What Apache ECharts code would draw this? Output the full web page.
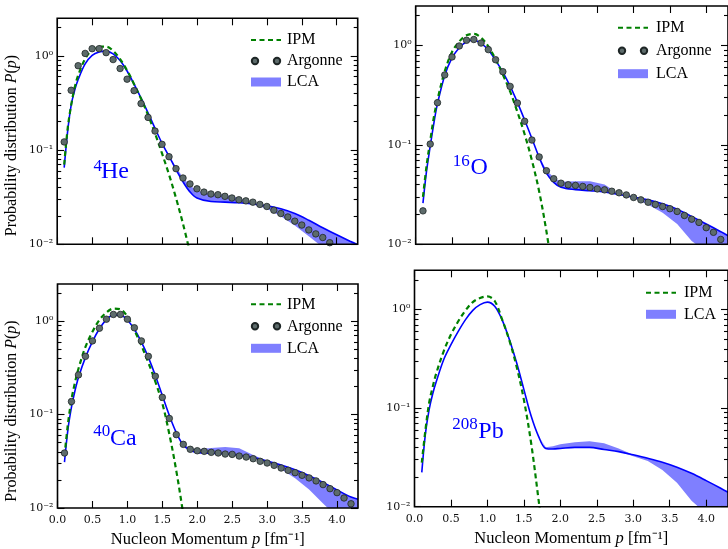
<!DOCTYPE html>
<html>
<head>
<meta charset="utf-8">
<script src="https://cdn.jsdelivr.net/npm/echarts@6/dist/echarts.min.js"></script>
<style>
html, body { margin: 0; padding: 0; background: #fff; }
#chart { width: 728px; height: 549px; }
</style>
</head>
<body>
<div id="chart"></div>
<script>
// momentum grids, fm^-1
var pLine = [0.1, 0.15, 0.2, 0.25, 0.3, 0.4, 0.5, 0.6, 0.7, 0.8, 0.9, 1.0, 1.1, 1.2, 1.3, 1.4, 1.5, 1.6, 1.7, 1.8, 1.9, 2.0, 2.2, 2.4, 2.6, 2.8, 3.0, 3.2, 3.4, 3.6, 3.8, 4.0, 4.2, 4.3];
var pIpm = [0.1, 0.15, 0.2, 0.25, 0.3, 0.4, 0.5, 0.6, 0.7, 0.8, 0.9, 1.0, 1.1, 1.2, 1.3, 1.4, 1.5, 1.6, 1.7, 1.8, 1.9];
var pBand = [1.4, 1.5, 1.6, 1.7, 1.8, 1.9, 2.0, 2.2, 2.4, 2.6, 2.8, 3.0, 3.2, 3.4, 3.6, 3.8, 4.0, 4.2, 4.3];
var pArg = [0.1, 0.2, 0.3, 0.4, 0.5, 0.6, 0.7, 0.8, 0.9, 1.0, 1.1, 1.2, 1.3, 1.4, 1.5, 1.6, 1.7, 1.8, 1.9, 2.0, 2.1,
            2.2, 2.3, 2.4, 2.5, 2.6, 2.7, 2.8, 2.9, 3.0, 3.1, 3.2, 3.3, 3.4, 3.5, 3.6, 3.7, 3.8, 3.9, 4.0, 4.1, 4.2];

// 4He
var heLine = [0.065, 0.16, 0.30, 0.43, 0.56, 0.82, 1.01, 1.10, 1.12, 1.05, 0.89, 0.69, 0.50, 0.355, 0.248, 0.17, 0.118, 0.086, 0.062, 0.046, 0.036,
              0.031, 0.0284, 0.028, 0.0276, 0.0268, 0.0256, 0.0238, 0.0212, 0.018, 0.015, 0.0126, 0.0107, 0.0099];
var heIpm = [0.07, 0.17, 0.30, 0.46, 0.62, 0.93, 1.15, 1.25, 1.25, 1.13, 0.92, 0.70, 0.50, 0.35, 0.235, 0.15, 0.092, 0.055, 0.031, 0.0165, 0.0082];
var heHigh = [0.17, 0.119, 0.088, 0.066, 0.051, 0.042, 0.037, 0.0345, 0.0335, 0.031, 0.0275, 0.0256, 0.0238, 0.0212, 0.018, 0.015, 0.0126, 0.0107, 0.0099];
var heLow = [0.17, 0.117, 0.085, 0.062, 0.046, 0.036, 0.031, 0.0284, 0.028, 0.0276, 0.0266, 0.0238, 0.0198, 0.0158, 0.0122, 0.0093, 0.0072, 0.0057, 0.005];
var heArg = [0.122, 0.431, 0.785, 1.06, 1.19, 1.19, 1.08, 0.912, 0.733, 0.565, 0.427, 0.311, 0.222, 0.159, 0.115, 0.085, 0.0635, 0.0505, 0.0437, 0.0388,
             0.0358, 0.0342, 0.0336, 0.0323, 0.031, 0.0297, 0.0289, 0.028, 0.0265, 0.0252, 0.023, 0.0212, 0.0195, 0.0176, 0.016, 0.0142, 0.0129, 0.0118, 0.0104];

// 16O
var oLine = [0.026, 0.055, 0.097, 0.165, 0.26, 0.50, 0.75, 0.95, 1.09, 1.13, 1.05, 0.90, 0.71, 0.54, 0.39, 0.268, 0.178, 0.116, 0.075, 0.052, 0.042,
             0.0375, 0.0355, 0.0346, 0.0336, 0.0317, 0.0298, 0.028, 0.0256, 0.0226, 0.0191, 0.016, 0.0134, 0.0122];
var oIpm = [0.03, 0.062, 0.11, 0.19, 0.285, 0.55, 0.86, 1.10, 1.27, 1.31, 1.20, 0.98, 0.73, 0.51, 0.345, 0.215, 0.128, 0.070, 0.034, 0.0135, 0.0045];
var oHigh = [0.268, 0.178, 0.116, 0.076, 0.056, 0.047, 0.0425, 0.043, 0.043, 0.040, 0.032, 0.0298, 0.028, 0.0256, 0.0226, 0.0191, 0.016, 0.0134, 0.0122];
var oLow = [0.268, 0.178, 0.116, 0.075, 0.052, 0.042, 0.0375, 0.0355, 0.0346, 0.0336, 0.0317, 0.0292, 0.025, 0.0208, 0.016, 0.0108, 0.0084, 0.0067, 0.006];
var oArg = [0.0217, 0.102, 0.266, 0.506, 0.768, 0.99, 1.13, 1.15, 1.06, 0.91, 0.72, 0.546, 0.388, 0.264, 0.173, 0.112, 0.0757, 0.055, 0.0457, 0.0412, 0.0397,
            0.0391, 0.0382, 0.0373, 0.0361, 0.0353, 0.0342, 0.033, 0.0314, 0.0296, 0.028, 0.0265, 0.0252, 0.024, 0.0228, 0.0214, 0.0195, 0.0179, 0.0166, 0.0147, 0.0132, 0.0112];

// 40Ca
var caLine = [0.031, 0.07, 0.12, 0.18, 0.25, 0.41, 0.605, 0.83, 1.04, 1.16, 1.16, 1.03, 0.82, 0.60, 0.41, 0.262, 0.16, 0.098, 0.064, 0.047, 0.0415,
              0.0392, 0.0385, 0.0378, 0.0366, 0.0346, 0.0318, 0.0288, 0.0256, 0.0222, 0.0188, 0.0156, 0.0131, 0.0124];
var caIpm = [0.036, 0.08, 0.145, 0.22, 0.31, 0.53, 0.77, 1.03, 1.24, 1.36, 1.34, 1.12, 0.80, 0.55, 0.36, 0.225, 0.132, 0.062, 0.025, 0.0085, 0.0025];
var caHigh = [0.262, 0.16, 0.098, 0.064, 0.048, 0.0435, 0.0425, 0.044, 0.045, 0.0435, 0.037, 0.0318, 0.0288, 0.0256, 0.0222, 0.0188, 0.0156, 0.0131, 0.0124];
var caLow = [0.262, 0.16, 0.098, 0.064, 0.047, 0.0415, 0.0392, 0.0385, 0.0378, 0.0366, 0.0346, 0.0305, 0.026, 0.0208, 0.0158, 0.0112, 0.008, 0.0062, 0.0055];
var caArg = [0.0388, 0.138, 0.266, 0.42, 0.615, 0.84, 1.05, 1.18, 1.18, 1.05, 0.85, 0.615, 0.42, 0.257, 0.153, 0.091, 0.061, 0.048, 0.0425, 0.041, 0.0404,
             0.0394, 0.0388, 0.0378, 0.0375, 0.036, 0.0351, 0.0337, 0.0316, 0.0303, 0.0286, 0.0268, 0.0253, 0.0239, 0.0224, 0.021, 0.0195, 0.0178, 0.0161, 0.0146, 0.0128, 0.0111];

// 208Pb
var pbLine = [0.0223, 0.055, 0.096, 0.14, 0.187, 0.31, 0.44, 0.60, 0.79, 0.98, 1.12, 1.19, 1.08, 0.79, 0.50, 0.29, 0.155, 0.083, 0.052, 0.039, 0.0385,
              0.039, 0.040, 0.040, 0.038, 0.0362, 0.0336, 0.031, 0.0283, 0.0252, 0.0218, 0.0184, 0.0154, 0.014];
var pbIpm = [0.028, 0.06, 0.112, 0.165, 0.227, 0.377, 0.557, 0.76, 0.98, 1.19, 1.31, 1.36, 1.22, 0.80, 0.49, 0.265, 0.122, 0.044, 0.012, 0.003, 0.0007];
var pbHigh = [0.29, 0.155, 0.083, 0.052, 0.04, 0.041, 0.043, 0.045, 0.046, 0.044, 0.039, 0.0336, 0.031, 0.0283, 0.0252, 0.0218, 0.0184, 0.0154, 0.014];
var pbLow = [0.29, 0.155, 0.083, 0.052, 0.039, 0.0385, 0.039, 0.040, 0.040, 0.038, 0.0362, 0.0325, 0.029, 0.0235, 0.0175, 0.0115, 0.0085, 0.0068, 0.006];

var xTicks = [0, 0.5, 1.0, 1.5, 2.0, 2.5, 3.0, 3.5, 4.0];
var yMajor = [-2, -1, 0];   // log10 of 10^-2, 10^-1, 10^0
var yMin = 0.01, yMax = 2.5;
var LOGMAX = Math.log10(yMax);

var yMinor = [];
[-2, -1, 0].forEach(function (e) {
    for (var k = 2; k <= 9; k++) {
        var v = k * Math.pow(10, e);
        if (v < yMax) yMinor.push(Math.log10(v));
    }
});

var supText = { '-2': '10\u207B\u00B2', '-1': '10\u207B\u00B9', '0': '10\u2070' };

var SERIF = 'Liberation Serif';
var TICKFONT = 'DejaVu Serif';
var BAND = 'rgba(0,0,255,0.5)';
var dotsIcon = 'path://M0,0M30,9M0.8,4.5a3.2,3.2 0 1,0 6.4,0a3.2,3.2 0 1,0 -6.4,0zM22.8,4.5a3.2,3.2 0 1,0 6.4,0a3.2,3.2 0 1,0 -6.4,0z';

var panels = [
    { grid: { left: 57.2, top: 18.3, width: 300.5, height: 226 },
      line: heLine, ipm: heIpm, high: heHigh, low: heLow, arg: heArg,
      bottomRow: false, yTitle: 145.5,
      legend: { left: 245, top: 27, itemGap: 5, pad: 1 },
      sup: '4', name: 'He', supPos: [93.5, 166.3], namePos: [101, 171.7] },
    { grid: { left: 415.7, top: 6, width: 315.3, height: 238.3 },
      line: oLine, ipm: oIpm, high: oHigh, low: oLow, arg: oArg,
      bottomRow: false, yTitle: null,
      legend: { left: 612, top: 14.7, itemGap: 7, pad: 3 },
      sup: '16', name: 'O', supPos: [452.7, 161.5], namePos: [470.5, 167.4] },
    { grid: { left: 57.5, top: 284, width: 300.5, height: 225.3 },
      line: caLine, ipm: caIpm, high: caHigh, low: caLow, arg: caArg,
      bottomRow: true, yTitle: 411,
      legend: { left: 245, top: 291.3, itemGap: 6, pad: 1 },
      sup: '40', name: 'Ca', supPos: [93.3, 431.5], namePos: [110, 438.4] },
    { grid: { left: 414.5, top: 270.3, width: 316, height: 236.4 },
      line: pbLine, ipm: pbIpm, high: pbHigh, low: pbLow, arg: null,
      bottomRow: true, yTitle: null,
      legend: { left: 640, top: 279.7, itemGap: 5.6, pad: 3 },
      sup: '208', name: 'Pb', supPos: [452.3, 424.1], namePos: [478.3, 432] }
];

function pairs(xs, ys) {
    return ys.map(function (y, i) { return [xs[i], y]; });
}

var tickLine = { color: '#000', width: 1.1 };
var italic = { i: { fontFamily: SERIF, fontSize: 16, fontStyle: 'italic', fill: '#000', color: '#000' } };
var grids = [], xAxes = [], yAxes = [], series = [], legends = [], graphics = [];

panels.forEach(function (pn, g) {
    grids.push(Object.assign({ show: true, borderColor: '#000', borderWidth: 1.6, backgroundColor: 'transparent', z: 10 }, pn.grid));

    // x: bottom (data + labels) and top (ticks only)
    xAxes.push({
        gridIndex: g, type: 'value', min: 0, max: 4.3, position: 'bottom', z: 10,
        axisLine: { show: false, onZero: false }, splitLine: { show: false },
        axisTick: { inside: true, length: 7, customValues: xTicks, lineStyle: tickLine },
        axisLabel: { show: pn.bottomRow, customValues: xTicks, margin: 7,
                     formatter: function (v) { return v.toFixed(1); },
                     fontFamily: TICKFONT, fontSize: 11, color: '#111' },
        name: pn.bottomRow ? 'Nucleon Momentum {i|p} [fm\u207B\u00B9]' : '',
        nameLocation: 'middle', nameGap: 23,
        nameTextStyle: { fontFamily: SERIF, fontSize: 16.5, color: '#000',
                         rich: { i: { fontFamily: SERIF, fontSize: 16.5, fontStyle: 'italic', color: '#000' } } }
    });
    xAxes.push({
        gridIndex: g, type: 'value', min: 0, max: 4.3, position: 'top', z: 10,
        axisLine: { show: false, onZero: false }, splitLine: { show: false },
        axisTick: { inside: true, length: 7, customValues: xTicks, lineStyle: tickLine },
        axisLabel: { show: false }
    });

    // y: log axis carrying the data
    yAxes.push({ gridIndex: g, type: 'log', logBase: 10, min: yMin, max: yMax, show: false });
    // tick axes in log10 units (same mapping as the log axis)
    ['left', 'right'].forEach(function (side) {
        yAxes.push({
            gridIndex: g, type: 'value', min: -2, max: LOGMAX, position: side, z: 10,
            axisLine: { show: false, onZero: false }, splitLine: { show: false },
            axisTick: { inside: true, length: 7, customValues: yMajor, lineStyle: tickLine },
            axisLabel: { show: side === 'left', customValues: yMajor, margin: 4,
                         formatter: function (v) { return supText[String(Math.round(v))]; },
                         fontFamily: TICKFONT, fontSize: 11, color: '#111' }
        });
        yAxes.push({
            gridIndex: g, type: 'value', min: -2, max: LOGMAX, position: side, z: 10,
            axisLine: { show: false, onZero: false }, splitLine: { show: false },
            axisTick: { inside: true, length: 4, customValues: yMinor, lineStyle: tickLine },
            axisLabel: { show: false }
        });
    });

    var xi = g * 2, yi = g * 5;
    var high = pn.high, low = pn.low;

    series.push({
        type: 'custom', name: 'LCA', xAxisIndex: xi, yAxisIndex: yi, clip: true, z: 1,
        itemStyle: { color: BAND },
        data: [[pBand[0], low[0]]],
        renderItem: function (params, api) {
            var pts = [];
            for (var j = 0; j < pBand.length; j++) pts.push(api.coord([pBand[j], high[j]]));
            for (var k = pBand.length - 1; k >= 0; k--) pts.push(api.coord([pBand[k], low[k]]));
            return { type: 'polygon', shape: { points: pts }, style: { fill: BAND } };
        }
    });
    series.push({
        type: 'line', name: 'LCA line', xAxisIndex: xi, yAxisIndex: yi, z: 2,
        data: pairs(pLine, pn.line), symbol: 'none', smooth: 0.35,
        lineStyle: { color: '#0000ff', width: 1.6 }, itemStyle: { color: '#0000ff' }
    });
    series.push({
        type: 'line', name: 'IPM', xAxisIndex: xi, yAxisIndex: yi, z: 3,
        data: pairs(pIpm, pn.ipm), symbol: 'none', smooth: 0.35,
        lineStyle: { color: '#008000', width: 2.2, type: [5, 3.5] }, itemStyle: { color: '#008000' }
    });
    if (pn.arg) {
        series.push({
            type: 'scatter', name: 'Argonne', xAxisIndex: xi, yAxisIndex: yi, z: 4,
            data: pairs(pArg, pn.arg), symbol: 'circle', symbolSize: 6.5,
            itemStyle: { color: '#5d6b6b', borderColor: '#1e2626', borderWidth: 0.8, opacity: 1 }
        });
    }

    var items = [{ name: 'IPM', itemStyle: { opacity: 0 } }];
    if (pn.arg) items.push({ name: 'Argonne', icon: dotsIcon });
    items.push({ name: 'LCA', icon: 'rect' });
    legends.push({
        left: pn.legend.left, top: pn.legend.top, orient: 'vertical',
        itemWidth: 30, itemHeight: 9, itemGap: pn.legend.itemGap, selectedMode: false,
        data: items,
        textStyle: { fontFamily: SERIF, fontSize: 16, color: '#000', lineHeight: 16, padding: [0, 0, 0, pn.legend.pad] }
    });

    if (pn.yTitle !== null) {
        graphics.push({
            type: 'text', x: 11.5, y: pn.yTitle, rotation: Math.PI / 2, z: 20,
            style: { text: 'Probability distribution {i|P}({i|p})', rich: italic,
                     fontFamily: SERIF, fontSize: 16, fill: '#000', align: 'center', verticalAlign: 'middle' }
        });
    }
    graphics.push({
        type: 'text', x: pn.supPos[0], y: pn.supPos[1], z: 20,
        style: { text: pn.sup, fontFamily: SERIF, fontSize: 17, fill: '#0000ff', verticalAlign: 'middle' }
    });
    graphics.push({
        type: 'text', x: pn.namePos[0], y: pn.namePos[1], z: 20,
        style: { text: pn.name, fontFamily: SERIF, fontSize: 24, fill: '#0000ff', verticalAlign: 'middle' }
    });
});

var chart = echarts.init(document.getElementById('chart'));
chart.setOption({
    backgroundColor: '#fff',
    animation: false,
    grid: grids,
    xAxis: xAxes,
    yAxis: yAxes,
    legend: legends,
    graphic: graphics,
    series: series
});
</script>
</body>
</html>
